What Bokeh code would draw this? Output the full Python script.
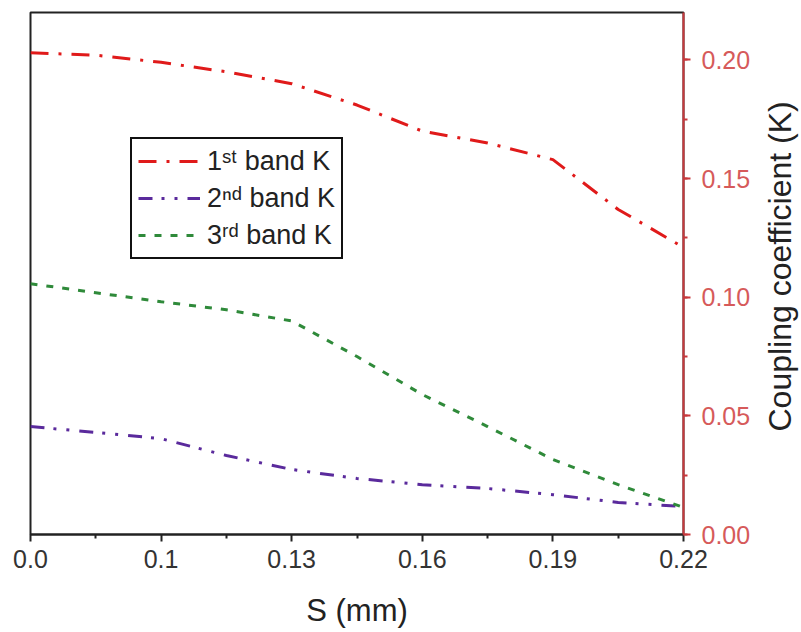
import math
from bokeh.plotting import figure
from bokeh.layouts import row
from bokeh.models import (Range1d, FixedTicker, SingleIntervalTicker, NumeralTickFormatter,
                          Legend, LegendItem, Label)
from bokeh.embed import file_html
from bokeh.resources import INLINE

# ---- data ----
s_labels = ["0.0", "0.1", "0.13", "0.16", "0.19", "0.22"]
x_pos = [0, 0.5, 1, 1.5, 2, 2.5, 3, 3.5, 4, 4.5, 5]   # evenly spaced S axis positions
k1 = [0.203, 0.202, 0.199, 0.195, 0.190, 0.181, 0.170, 0.165, 0.158, 0.137, 0.121]
k2 = [0.0455, 0.043, 0.0404, 0.0333, 0.0274, 0.0236, 0.021, 0.0194, 0.0168, 0.0135, 0.0118]
k3 = [0.1057, 0.1019, 0.0981, 0.0947, 0.0900, 0.0750, 0.0590, 0.0455, 0.0316, 0.0210, 0.0114]
series_names = ["1ˢᵗ band K", "2ⁿᵈ band K", "3ʳᵈ band K"]
y_title = "Coupling coefficient (K)"

FONT = "Liberation Sans"
RED_AX = "#c8383c"
H = 630

p = figure(width=762, height=H, output_backend="svg", toolbar_location=None,
           x_range=Range1d(0, 5), y_range=Range1d(0, 0.22),
           y_axis_location="right",
           min_border_left=30, min_border_top=12, min_border_right=79, min_border_bottom=95)

p.grid.visible = False
p.outline_line_color = "#222222"
p.outline_line_width = 2
p.outline_line_alpha = 1
p.background_fill_color = "white"
p.border_fill_color = "white"

r1 = p.line(x_pos, k1, line_color="#e01a1a", line_width=3, line_dash="18 10 3 10")
r2 = p.line(x_pos, k2, line_color="#5a2a9c", line_width=3, line_dash="14 9 3 10 3 10")
r3 = p.line(x_pos, k3, line_color="#2f8a3a", line_width=3, line_dash="7 9")

# x axis
xa = p.xaxis[0]
xa.ticker = FixedTicker(ticks=list(range(len(s_labels))),
                        minor_ticks=[i + 0.5 for i in range(len(s_labels) - 1)])
xa.major_label_overrides = {i: lab for i, lab in enumerate(s_labels)}
xa.axis_label = "S (mm)"
xa.axis_label_text_font = FONT
xa.axis_label_text_font_size = "31px"
xa.axis_label_text_font_style = "normal"
xa.axis_label_text_color = "#222222"
xa.axis_label_standoff = 22
xa.major_label_text_font = FONT
xa.major_label_text_font_size = "25px"
xa.major_label_text_color = "#333333"
xa.major_label_standoff = 8
xa.axis_line_color = "#222222"
xa.axis_line_width = 2
xa.major_tick_line_color = "#222222"
xa.major_tick_line_width = 2
xa.major_tick_out = 7
xa.major_tick_in = 0
xa.minor_tick_line_color = "#222222"
xa.minor_tick_line_width = 2
xa.minor_tick_out = 4
xa.minor_tick_in = 0

# right y axis
ya = p.yaxis[0]
ya.ticker = SingleIntervalTicker(interval=0.05, num_minor_ticks=2)
ya.formatter = NumeralTickFormatter(format="0.00")
ya.major_label_text_font = FONT
ya.major_label_text_font_size = "25px"
ya.major_label_text_color = "#d65a5a"
ya.major_label_standoff = 11
ya.axis_line_color = RED_AX
ya.axis_line_width = 2
ya.major_tick_line_color = RED_AX
ya.major_tick_line_width = 2
ya.major_tick_out = 7
ya.major_tick_in = 0
ya.minor_tick_line_color = RED_AX
ya.minor_tick_line_width = 2
ya.minor_tick_out = 4
ya.minor_tick_in = 0

legend = Legend(items=[LegendItem(label=series_names[0], renderers=[r1]),
                       LegendItem(label=series_names[1], renderers=[r2]),
                       LegendItem(label=series_names[2], renderers=[r3])],
                location=(100, 275))
legend.label_text_font = FONT
legend.label_text_font_size = "27px"
legend.label_text_color = "#222222"
legend.label_height = 32
legend.label_standoff = 7
legend.glyph_width = 62
legend.glyph_height = 32
legend.spacing = 5
legend.padding = 6
legend.margin = 0
legend.border_line_color = "#111111"
legend.border_line_width = 2
legend.border_line_alpha = 1
legend.background_fill_alpha = 1
p.add_layout(legend, "center")

# narrow strip holding the y-axis title (reads bottom-to-top)
q = figure(width=38, height=H, output_backend="svg", toolbar_location=None,
           x_range=Range1d(0, 1), y_range=Range1d(0, 0.22),
           min_border=0, min_border_left=0, min_border_right=0,
           min_border_top=0, min_border_bottom=0)
q.axis.visible = False
q.grid.visible = False
q.outline_line_color = None
q.background_fill_color = "white"
q.border_fill_color = "white"
ylab = Label(x=0.45, y=0.113, text=y_title,
             angle=math.pi / 2, text_align="center", text_baseline="middle",
             text_font=FONT, text_font_size="32px", text_color="#222222")
q.add_layout(ylab, "center")

layout = row(p, q, spacing=0)
open("out.html", "w").write(file_html(layout, INLINE))
